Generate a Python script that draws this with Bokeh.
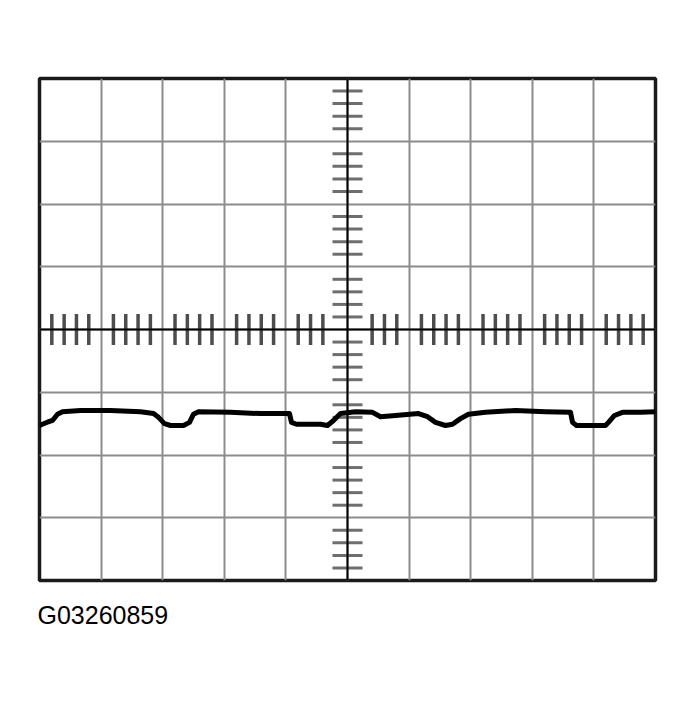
import numpy as np
from bokeh.plotting import figure
from bokeh.models import Range1d, Span, Title, FixedTicker
from bokeh.embed import file_html
from bokeh.resources import INLINE

# Screen: 10 horizontal divisions, 8 vertical divisions
x_divs = 10
y_divs = 8
minor_per_div = 5

# Waveform (x in divisions, y in divisions from centre)
wave_x = [0.0, 0.146, 0.211, 0.292, 0.373, 0.666, 1.153, 1.640, 1.851, 1.932,
          2.029, 2.127, 2.338, 2.435, 2.500, 2.581, 3.101, 3.588, 4.058, 4.091,
          4.172, 4.562, 4.675, 4.773, 4.886, 5.130, 5.406, 5.536, 5.779, 6.153,
          6.299, 6.429, 6.591, 6.705, 6.834, 6.964, 7.240, 7.727, 8.214, 8.620,
          8.653, 8.718, 9.188, 9.237, 9.334, 9.464, 9.756, 10.0]
wave_y = [-1.53, -1.47, -1.45, -1.35, -1.31, -1.29, -1.29, -1.31, -1.34, -1.40,
          -1.50, -1.53, -1.53, -1.48, -1.35, -1.31, -1.32, -1.34, -1.34, -1.48,
          -1.51, -1.51, -1.53, -1.45, -1.34, -1.31, -1.32, -1.39, -1.37, -1.34,
          -1.39, -1.48, -1.53, -1.51, -1.42, -1.35, -1.32, -1.29, -1.31, -1.32,
          -1.48, -1.53, -1.53, -1.48, -1.37, -1.32, -1.32, -1.31]

caption = "G03260859"

x_min, x_max = 0, x_divs
y_min, y_max = -y_divs / 2, y_divs / 2
x_mid = (x_min + x_max) / 2
y_mid = 0

p = figure(width=687, height=690, output_backend="svg", toolbar_location=None,
           x_range=Range1d(x_min, x_max), y_range=Range1d(y_min, y_max),
           min_border_left=39, min_border_right=32, min_border_top=78,
           min_border_bottom=110)
p.axis.visible = False
p.background_fill_color = "white"
p.border_fill_color = "white"
p.outline_line_color = "#1a1a1a"
p.outline_line_width = 3.5

p.xgrid.ticker = FixedTicker(ticks=list(range(x_min + 1, x_max)))
p.ygrid.ticker = FixedTicker(ticks=list(range(int(y_min) + 1, int(y_max))))
for g in (p.xgrid, p.ygrid):
    g.grid_line_color = "#8c8c8c"
    g.grid_line_width = 2
    g.grid_line_alpha = 1

# centre axes
p.add_layout(Span(location=x_mid, dimension="height", line_color="black", line_width=2))
p.add_layout(Span(location=y_mid, dimension="width", line_color="black", line_width=2))

# minor ticks on centre axes
step = 1 / minor_per_div
xt = np.arange(x_min, x_max + 1e-9, step)
xt = [v for v in xt if abs(round(v) - v) > 1e-6 and abs(v - x_mid) > 0.25]
yt = np.arange(y_min, y_max + 1e-9, step)
yt = [v for v in yt if abs(round(v) - v) > 1e-6]

p.dash(x=xt, y=[y_mid] * len(xt), size=31, angle=np.pi / 2,
       line_color="#4d4d4d", line_width=3.5)
p.dash(x=[x_mid] * len(yt), y=yt, size=30, angle=0,
       line_color="#6e6e6e", line_width=3)

p.line(wave_x, wave_y, line_color="black", line_width=5, line_join="round")

p.add_layout(Title(text=caption, align="left", offset=-2, standoff=37,
                   text_font="Liberation Sans", text_font_size="25px",
                   text_font_style="normal", text_color="black"), "below")

open("out.html", "w").write(file_html(p, INLINE))
